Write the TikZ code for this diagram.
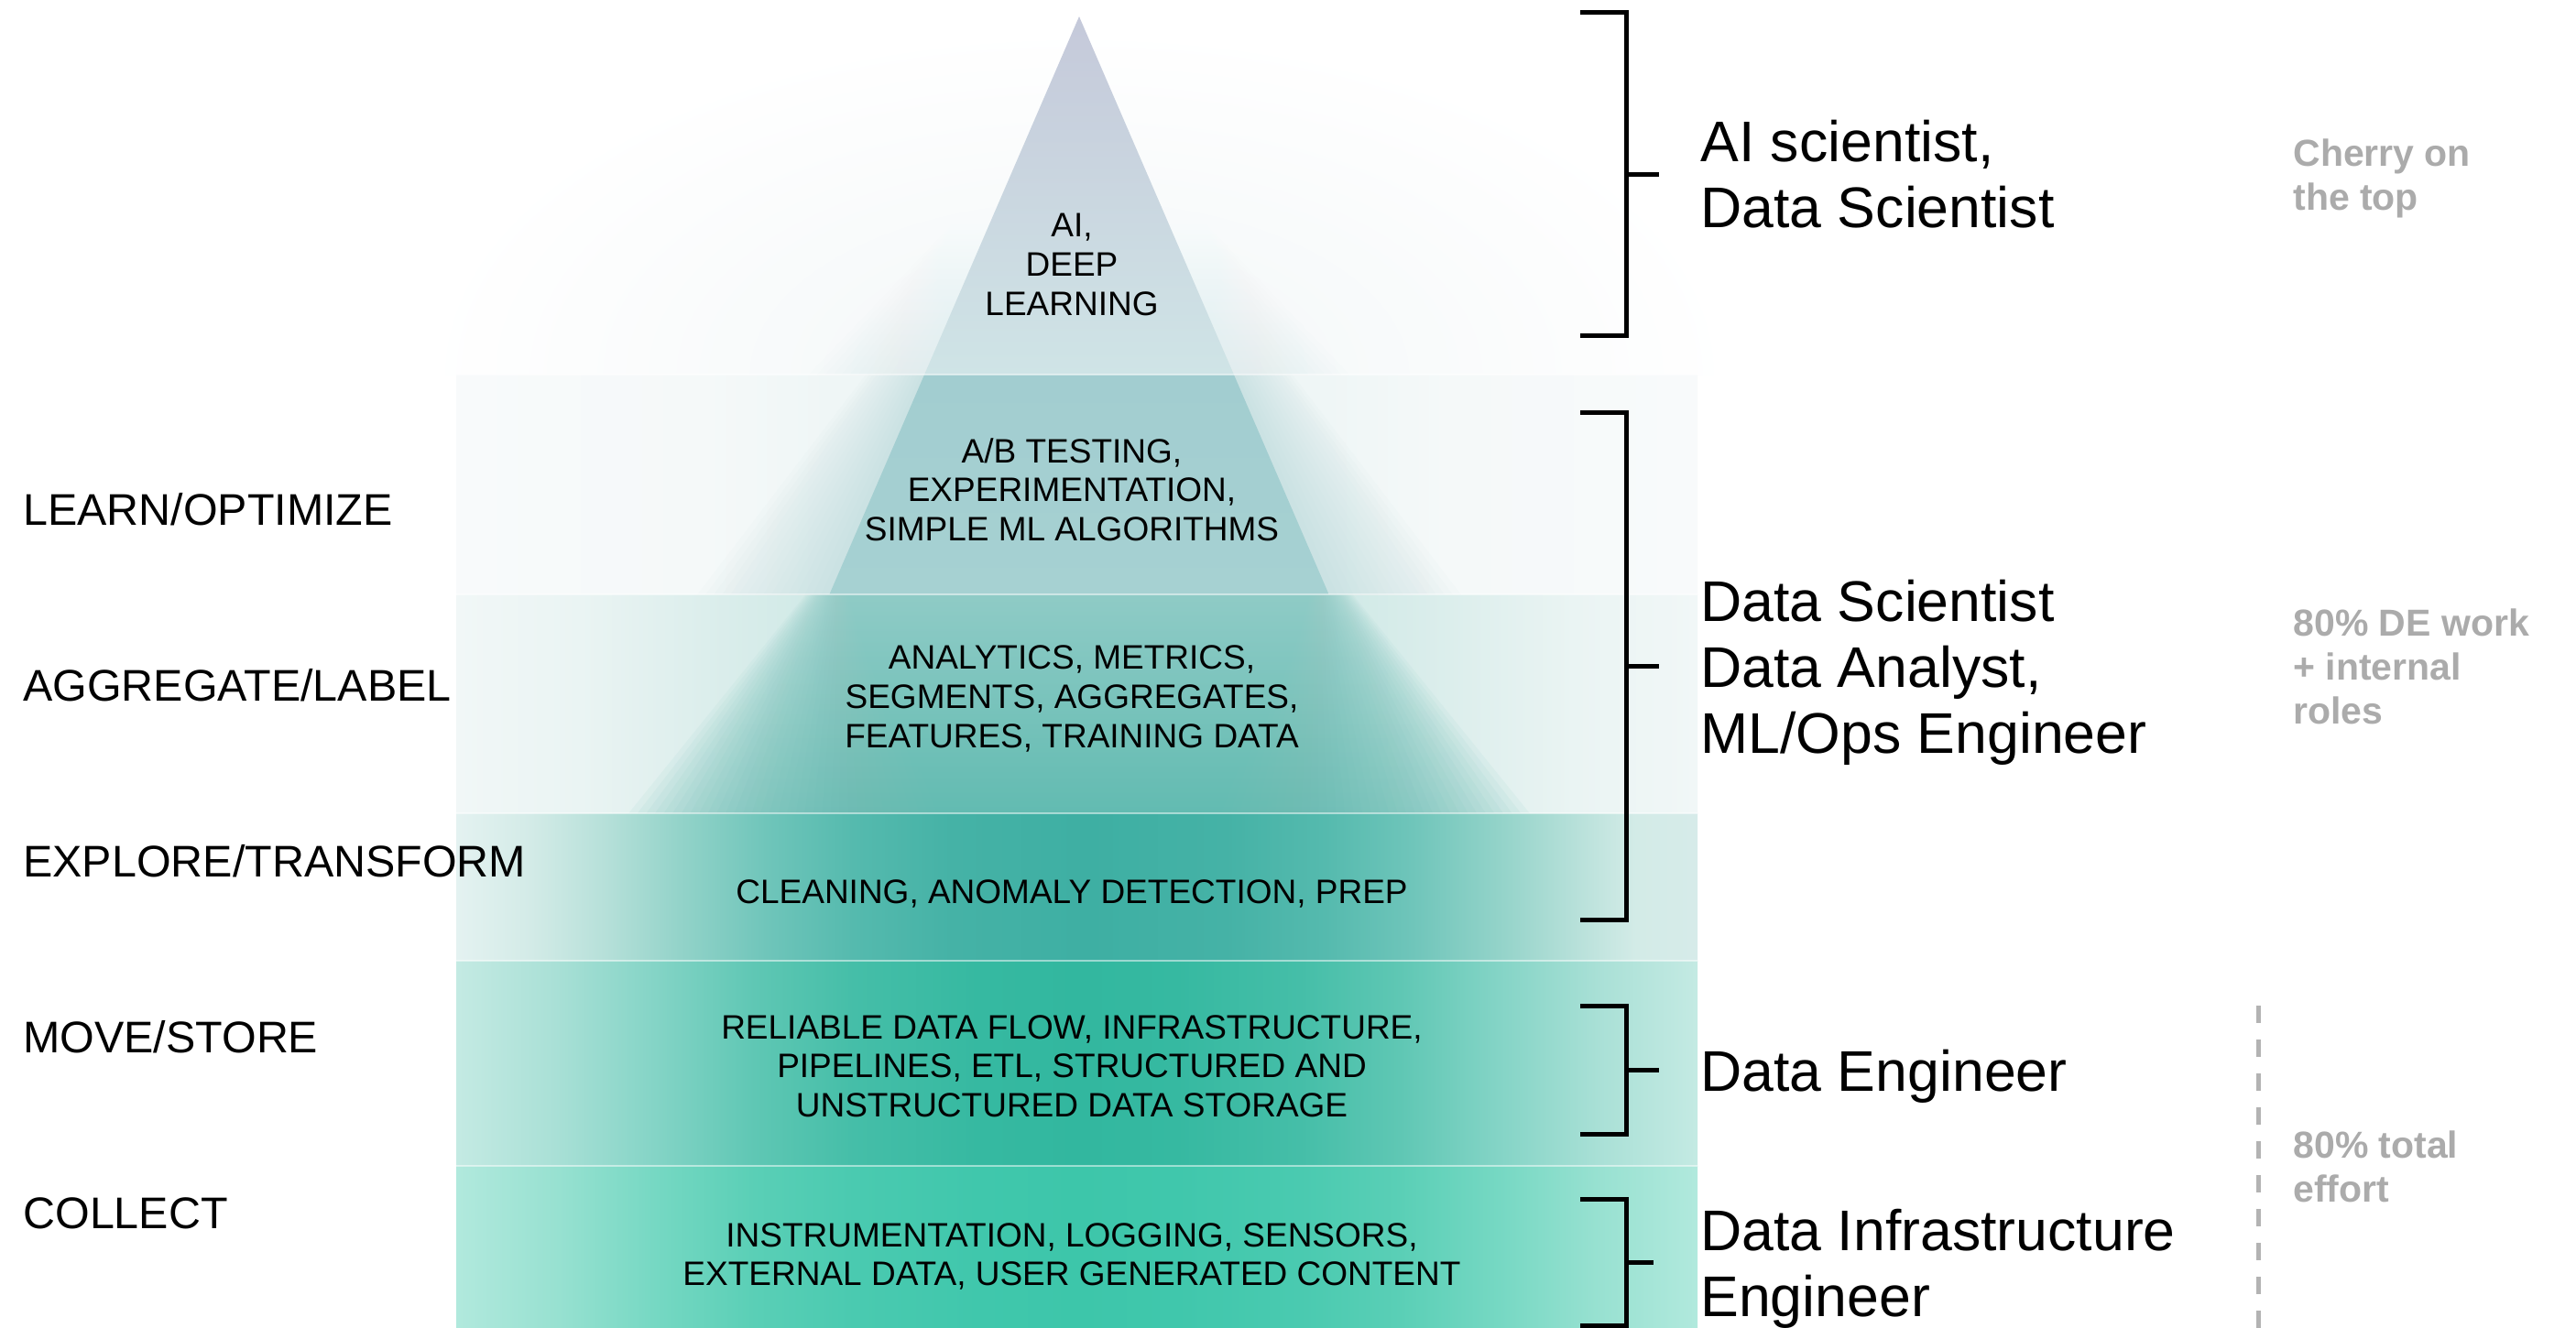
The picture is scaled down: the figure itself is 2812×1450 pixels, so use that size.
\documentclass[tikz,border=0pt]{standalone}
\usepackage{fontspec}
\setmainfont{Liberation Sans}
\usetikzlibrary{calc}

% ---------- colours ----------
\definecolor{triA}{HTML}{C5C9DA}
\definecolor{triB}{HTML}{CBD9E0}
\definecolor{triC}{HTML}{CFE4E6}
\definecolor{topglow}{HTML}{F2F6F7}
\definecolor{topedge}{HTML}{DCECEE}
\definecolor{abcoreT}{HTML}{A2CDD0}
\definecolor{abcoreB}{HTML}{A6D1D2}
\definecolor{abglow}{HTML}{B5D8D9}
\definecolor{abA}{HTML}{F8FAFB}
\definecolor{abB}{HTML}{F5F9F9}
\definecolor{abC}{HTML}{EFF6F6}
\definecolor{anA}{HTML}{F1F7F7}
\definecolor{anB}{HTML}{EAF4F3}
\definecolor{anC}{HTML}{DCEEEC}
\definecolor{anD}{HTML}{CFE9E6}
\definecolor{anE}{HTML}{C8E6E2}
\definecolor{anT}{HTML}{8FCBC6}
\definecolor{anBt}{HTML}{62BBB1}
\definecolor{clA}{HTML}{E4F2F1}
\definecolor{clB}{HTML}{D3EBE7}
\definecolor{clC}{HTML}{B6E0D9}
\definecolor{clD}{HTML}{93D3C9}
\definecolor{clE}{HTML}{6FC5BA}
\definecolor{clF}{HTML}{55BAAE}
\definecolor{clG}{HTML}{45B2A6}
\definecolor{clH}{HTML}{3EAFA3}
\definecolor{clK}{HTML}{D6EBE9}
\definecolor{reA}{HTML}{C4EAE3}
\definecolor{reB}{HTML}{A9E0D6}
\definecolor{reC}{HTML}{84D4C6}
\definecolor{reD}{HTML}{5FC7B4}
\definecolor{reE}{HTML}{45BEA8}
\definecolor{reF}{HTML}{36B9A1}
\definecolor{reG}{HTML}{32B79F}
\definecolor{inA}{HTML}{B1E9DD}
\definecolor{inB}{HTML}{98E1D1}
\definecolor{inC}{HTML}{76D8C3}
\definecolor{inD}{HTML}{5ACFB6}
\definecolor{inE}{HTML}{4ACAB0}
\definecolor{inF}{HTML}{40C7AC}
\definecolor{inG}{HTML}{3DC6AA}
\definecolor{notegrey}{HTML}{ABABAB}
\definecolor{dashgrey}{HTML}{B3B3B3}

% ---------- band shadings (central 25bp..75bp maps onto the band) ----------
\pgfdeclarehorizontalshading{shAB}{100bp}{color(0bp)=(abA); color(25bp)=(abA); color(35bp)=(abB); color(40bp)=(abC); color(50bp)=(abC); color(60bp)=(abC); color(65bp)=(abB); color(75bp)=(abA); color(100bp)=(abA)}
\pgfdeclarehorizontalshading{shAN}{100bp}{color(0bp)=(anA); color(25bp)=(anA); color(30bp)=(anB); color(35bp)=(anC); color(40bp)=(anD); color(50bp)=(anE); color(60bp)=(anD); color(65bp)=(anC); color(70bp)=(anB); color(75bp)=(anA); color(100bp)=(anA)}
\pgfdeclarehorizontalshading{shCL}{100bp}{color(0bp)=(clA); color(25bp)=(clA); color(28bp)=(clB); color(31bp)=(clC); color(34bp)=(clD); color(37.5bp)=(clE); color(41bp)=(clF); color(45bp)=(clG); color(50.5bp)=(clH); color(56bp)=(clG); color(60bp)=(clF); color(63.5bp)=(clE); color(67bp)=(clD); color(70bp)=(clC); color(72.5bp)=(clB); color(75bp)=(clK); color(100bp)=(clK)}
\pgfdeclarehorizontalshading{shRE}{100bp}{color(0bp)=(reA); color(25bp)=(reA); color(29bp)=(reB); color(33bp)=(reC); color(37bp)=(reD); color(41bp)=(reE); color(46bp)=(reF); color(50bp)=(reG); color(54bp)=(reF); color(59bp)=(reE); color(63bp)=(reD); color(67bp)=(reC); color(71bp)=(reB); color(75bp)=(reA); color(100bp)=(reA)}
\pgfdeclarehorizontalshading{shIN}{100bp}{color(0bp)=(inA); color(25bp)=(inA); color(29bp)=(inB); color(33bp)=(inC); color(37bp)=(inD); color(41bp)=(inE); color(46bp)=(inF); color(50bp)=(inG); color(54bp)=(inF); color(59bp)=(inE); color(63bp)=(inD); color(67bp)=(inC); color(71bp)=(inB); color(75bp)=(inA); color(100bp)=(inA)}

\begin{document}
\begin{tikzpicture}[x=0.5pt,y=-0.5pt,
  sidelabel/.style={anchor=base west, inner sep=0pt, font=\fontsize{24.2}{29}\selectfont},
  pyrtext/.style={align=center, inner sep=0pt, font=\fontsize{18.5}{21.3}\selectfont},
  role/.style={align=left, anchor=west, inner sep=0pt, font=\fontsize{31.3}{36}\selectfont},
  note/.style={align=left, anchor=west, inner sep=0pt, text=notegrey, font=\bfseries\fontsize{20.5}{24}\selectfont},
  bracket/.style={draw=black, line width=2.5pt, line join=miter},
  separator/.style={draw=white, draw opacity=0.5, line width=1.2pt},
  effortline/.style={draw=dashgrey, line width=2.5pt, dash pattern=on 9.5pt off 9pt}
]
\useasboundingbox (0,0) rectangle (2812,1450);
\fill[white] (0,0) rectangle (2812,1450);

% ---------- faint glow in the top region ----------
\begin{scope}
  \clip (0,0) rectangle (2812,409);
  \shade[inner color=topglow, outer color=white] (1178,409) ellipse [x radius=720, y radius=380];
\end{scope}

% ---------- bands ----------
\shade[shading=shAB] (498,409) rectangle (1853,649);
\shade[shading=shAN] (498,649) rectangle (1853,888);
\shade[shading=shCL] (498,888) rectangle (1853,1049);
\shade[shading=shRE] (498,1049) rectangle (1853,1273);
\shade[shading=shIN] (498,1273) rectangle (1853,1450);

% ---------- soft glow around the top triangle ----------
\foreach \k in {1,...,14}{
  \pgfmathsetmacro{\ha}{78.6+1.2*\k}
  \pgfmathsetmacro{\hb}{168.9+9*\k}
  \shade[top color=white, bottom color=topedge, opacity=0.07]
    (1178-\ha,200) -- (1178+\ha,200) -- (1178+\hb,409) -- (1178-\hb,409) -- cycle;
}
% ---------- soft glow around the A/B part ----------
\foreach \k in {1,...,16}{
  \pgfmathsetmacro{\ha}{168.9+4*\k}
  \pgfmathsetmacro{\hb}{272.6+9*\k}
  \fill[abglow, opacity=0.045]
    (1178-\ha,409) -- (1178+\ha,409) -- (1178+\hb,649) -- (1178-\hb,649) -- cycle;
}
% ---------- soft triangle in the analytics band ----------
\foreach \k in {0,...,35}{
  \pgfmathsetmacro{\ha}{272.6-30+1.6*\k}
  \pgfmathsetmacro{\hb}{375.8-220+9.6*\k}
  \shade[top color=anT, bottom color=anBt, opacity=0.07]
    (1178-\ha,649) -- (1178+\ha,649) -- (1178+\hb,888) -- (1178-\hb,888) -- cycle;
}

% ---------- sharp triangle (top and A/B) ----------
\coordinate (apex) at (1178,18);
\shade[top color=triA, middle color=triB, bottom color=triC]
  (apex) -- (1346.9,409) -- (1009.1,409) -- cycle;
\shade[top color=abcoreT, bottom color=abcoreB]
  (1009.1,409) -- (1346.9,409) -- (1450.6,649) -- (905.4,649) -- cycle;

% ---------- band separators ----------
\foreach \yy in {409,649,888,1049,1273}{
  \draw[separator] (498,\yy) -- (1853,\yy);
}

% ---------- left stage labels ----------
\node[sidelabel] (learn) at (25,573) {LEARN/OPTIMIZE};
\node[sidelabel] (aggr) at (25,765) {AGGREGATE/LABEL};
\node[sidelabel] (explore) at (25,957) {EXPLORE/TRANSFORM};
\node[sidelabel] (move) at (25,1149) {MOVE/STORE};
\node[sidelabel] (collect) at (25,1341) {COLLECT};

% ---------- pyramid texts ----------
\node[pyrtext] (ai) at (1170,289) {AI,\\DEEP\\LEARNING};
\node[pyrtext] (ab) at (1170,534.5) {A/B TESTING,\\EXPERIMENTATION,\\SIMPLE ML ALGORITHMS};
\node[pyrtext] (analytics) at (1170,763) {ANALYTICS, METRICS,\\SEGMENTS, AGGREGATES,\\FEATURES, TRAINING DATA};
\node[pyrtext] (cleaning) at (1170,976) {CLEANING, ANOMALY DETECTION, PREP};
\node[pyrtext] (reliable) at (1170,1164) {RELIABLE DATA FLOW, INFRASTRUCTURE,\\PIPELINES, ETL, STRUCTURED AND\\UNSTRUCTURED DATA STORAGE};
\node[pyrtext] (instr) at (1170,1372) {INSTRUMENTATION, LOGGING, SENSORS,\\EXTERNAL DATA, USER GENERATED CONTENT};

% ---------- brackets ----------
\draw[bracket] (1725,14) -- (1775,14) -- (1775,366) -- (1725,366);
\draw[bracket] (1775,190) -- (1811,190);
\draw[bracket] (1725,450) -- (1775,450) -- (1775,1004) -- (1725,1004);
\draw[bracket] (1775,727) -- (1811,727);
\draw[bracket] (1725,1098) -- (1775,1098) -- (1775,1238) -- (1725,1238);
\draw[bracket] (1775,1168) -- (1811,1168);
\draw[bracket] (1725,1309) -- (1775,1309) -- (1775,1447) -- (1725,1447);
\draw[bracket] (1775,1378) -- (1805,1378);

% ---------- roles ----------
\node[role] (r1) at (1856,190) {AI scientist,\\Data Scientist};
\node[role] (r2) at (1856,734.5) {Data Scientist\\Data Analyst,\\ML/Ops Engineer};
\node[role] (r3) at (1856,1175.5) {Data Engineer};
\node[role] (r4) at (1856,1385.5) {Data Infrastructure\\Engineer};

% ---------- grey notes ----------
\node[note] (n1) at (2503,195) {Cherry on\\the top};
\node[note] (n2) at (2503,728) {80\% DE work\\+ internal\\roles};
\node[note] (n3) at (2503,1274) {80\% total\\effort};
\draw[effortline] (2465,1098) -- (2465,1450);
\end{tikzpicture}
\end{document}
